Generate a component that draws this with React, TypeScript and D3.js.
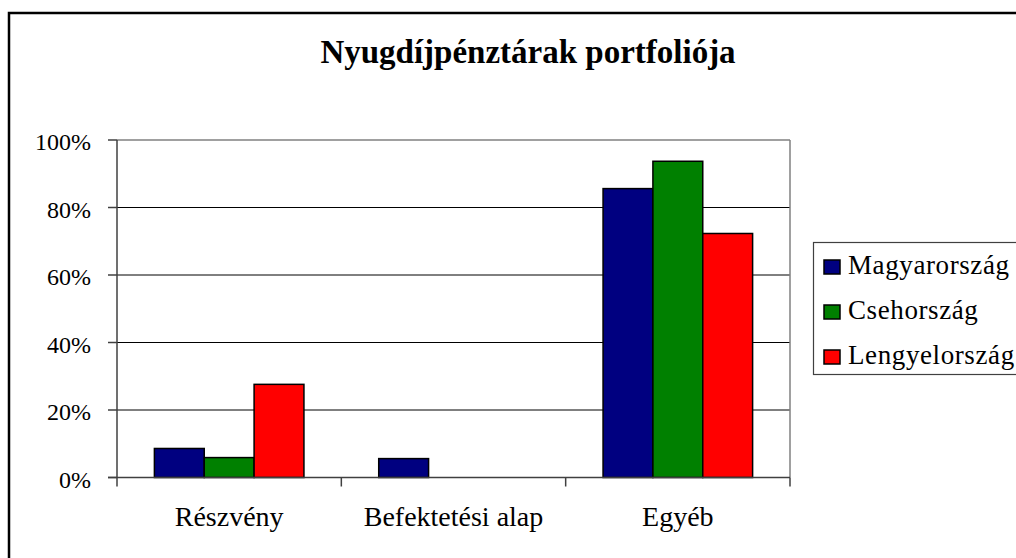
import React from 'react';
import * as d3 from 'd3';

// chart data
const categories = ['Részvény', 'Befektetési alap', 'Egyéb'];
const seriesNames = ['Magyarország', 'Csehország', 'Lengyelország'];
const seriesColors = ['#000080', '#008000', '#FF0000'];
const magyarorszag = [8.6, 5.6, 85.6];
const csehorszag = [5.9, 0, 93.7];
const lengyelorszag = [27.6, 0, 72.3];
const yTicks = [0, 20, 40, 60, 80, 100];

const seriesValues = [magyarorszag, csehorszag, lengyelorszag];

const W = 1016;
const H = 558;
const plot = { left: 117, right: 790, top: 140, bottom: 477.5 };
const serif = '"Liberation Serif", "Times New Roman", serif';

export default function App() {
  const x0 = d3.scaleBand<string>()
    .domain(categories)
    .range([plot.left, plot.right])
    .padding(0);

  // Excel-like gap width of 150%
  const x1 = d3.scaleBand<string>()
    .domain(seriesNames)
    .range([0, x0.bandwidth()])
    .paddingInner(0)
    .paddingOuter(0.75);

  const y = d3.scaleLinear().domain([0, 100]).range([plot.bottom, plot.top]);

  return (
    <div style={{ position: 'fixed', left: 0, top: 0, width: W, height: H, background: '#fff' }}>
      <svg width={W} height={H} style={{ display: 'block' }}>
        <rect x={0} y={0} width={W} height={H} fill="#fff" />
        {/* outer chart frame */}
        <rect x={9} y={13} width={W + 40} height={H + 40} fill="none" stroke="#000" strokeWidth={2.5} />

        <text
          x={528}
          y={63}
          textAnchor="middle"
          fontFamily={serif}
          fontWeight="bold"
          fontSize={33}
          fill="#000"
        >
          Nyugdíjpénztárak portfoliója
        </text>

        {/* gridlines */}
        {yTicks.filter(t => t > 0 && t < 100).map(t => (
          <line key={t} x1={plot.left} x2={plot.right} y1={y(t)} y2={y(t)} stroke="#000" strokeWidth={1} />
        ))}
        {/* plot area border top / right */}
        <line x1={plot.left} x2={plot.right} y1={y(100)} y2={y(100)} stroke="#808080" strokeWidth={1.5} />
        <line x1={plot.right} x2={plot.right} y1={plot.top} y2={plot.bottom} stroke="#808080" strokeWidth={1.5} />

        {/* bars */}
        {categories.map((c, ci) => (
          <g key={c} transform={`translate(${x0(c)},0)`}>
            {seriesNames.map((s, si) => {
              const v = seriesValues[si][ci];
              if (v <= 0) return null;
              return (
                <rect
                  key={s}
                  x={x1(s)}
                  y={y(v)}
                  width={x1.bandwidth()}
                  height={y(0) - y(v)}
                  fill={seriesColors[si]}
                  stroke="#000"
                  strokeWidth={1.5}
                />
              );
            })}
          </g>
        ))}

        {/* y axis */}
        <line x1={plot.left} x2={plot.left} y1={plot.top} y2={plot.bottom + 9} stroke="#404040" strokeWidth={1.5} />
        {yTicks.map(t => (
          <g key={t}>
            <line x1={plot.left - 9} x2={plot.left} y1={y(t)} y2={y(t)} stroke="#404040" strokeWidth={1.5} />
            <text
              x={91}
              y={y(t) + 10}
              textAnchor="end"
              fontFamily={serif}
              fontSize={24}
              fill="#000"
            >
              {`${t}%`}
            </text>
          </g>
        ))}

        {/* x axis */}
        <line x1={plot.left - 9} x2={plot.right} y1={plot.bottom} y2={plot.bottom} stroke="#404040" strokeWidth={1.5} />
        {categories.map(c => (
          <line
            key={c}
            x1={(x0(c) ?? 0) + x0.bandwidth()}
            x2={(x0(c) ?? 0) + x0.bandwidth()}
            y1={plot.bottom}
            y2={plot.bottom + 9}
            stroke="#404040"
            strokeWidth={1.5}
          />
        ))}
        {categories.map(c => (
          <text
            key={c}
            x={(x0(c) ?? 0) + x0.bandwidth() / 2}
            y={526}
            textAnchor="middle"
            fontFamily={serif}
            fontSize={28}
            fill="#000"
          >
            {c}
          </text>
        ))}

        {/* legend */}
        <rect x={813.5} y={242.5} width={230} height={132} fill="#fff" stroke="#404040" strokeWidth={1.2} />
        {seriesNames.map((s, i) => (
          <g key={s} transform={`translate(0,${i * 45})`}>
            <rect x={824} y={260} width={16} height={14} fill={seriesColors[i]} stroke="#000" strokeWidth={1.5} />
            <text x={848} y={274} fontFamily={serif} fontSize={27} letterSpacing={0.6} fill="#000">
              {s}
            </text>
          </g>
        ))}
      </svg>
    </div>
  );
}
